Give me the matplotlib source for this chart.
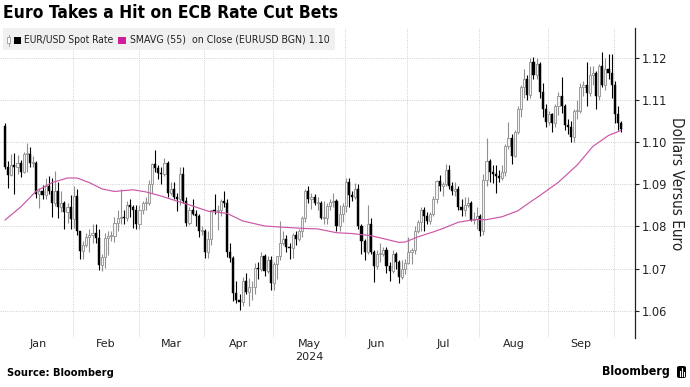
import matplotlib
matplotlib.use("Agg")
import matplotlib.pyplot as plt
from matplotlib.patches import Rectangle, FancyBboxPatch
from matplotlib import font_manager
import numpy as np
import pandas as pd

# ---------------- data ----------------
dates = pd.bdate_range("2024-01-02", "2024-10-03")

open_ = [
    # Jan
    1.1039, 1.0940, 1.0921, 1.0945, 1.0940, 1.0950, 1.0930, 1.0972, 1.0972, 1.0950, 1.0950,
    1.0877, 1.0885, 1.0875, 1.0897, 1.0885, 1.0855, 1.0885, 1.0845, 1.0855, 1.0835, 1.0845,
    # Feb
    1.0818, 1.0873, 1.0788, 1.0742, 1.0755, 1.0775, 1.0780, 1.0785, 1.0772, 1.0708, 1.0728,
    1.0772, 1.0777, 1.0777, 1.0808, 1.0820, 1.0822, 1.0820, 1.0850, 1.0845, 1.0840,
    # Mar
    1.0805, 1.0838, 1.0855, 1.0855, 1.0900, 1.0948, 1.0938, 1.0927, 1.0925, 1.0950, 1.0880,
    1.0890, 1.0870, 1.0865, 1.0925, 1.0860, 1.0808, 1.0838, 1.0830, 1.0825, 1.0790,
    # Apr
    1.0790, 1.0740, 1.0770, 1.0838, 1.0836, 1.0840, 1.0860, 1.0855, 1.0740, 1.0725, 1.0642,
    1.0625, 1.0620, 1.0670, 1.0645, 1.0655, 1.0655, 1.0702, 1.0700, 1.0730, 1.0695, 1.0720,
    # May
    1.0665, 1.0710, 1.0730, 1.0760, 1.0770, 1.0752, 1.0748, 1.0780, 1.0770, 1.0790, 1.0820,
    1.0885, 1.0865, 1.0870, 1.0855, 1.0855, 1.0820, 1.0820, 1.0848, 1.0857, 1.0860, 1.0800, 1.0830,
    # Jun
    1.0848, 1.0905, 1.0875, 1.0870, 1.0890, 1.0800, 1.0765, 1.0740, 1.0805, 1.0740,
    1.0705, 1.0735, 1.0735, 1.0745, 1.0705, 1.0695, 1.0735, 1.0715, 1.0680, 1.0700,
    # Jul
    1.0712, 1.0740, 1.0745, 1.0790, 1.0810, 1.0840, 1.0825, 1.0812, 1.0830, 1.0865, 1.0907,
    1.0895, 1.0900, 1.0935, 1.0895, 1.0885, 1.0890, 1.0845, 1.0840, 1.0850, 1.0855, 1.0815, 1.0817,
    # Aug
    1.0825, 1.0790, 1.0910, 1.0955, 1.0930, 1.0925, 1.0920, 1.0915, 1.0930, 1.0990, 1.1010,
    1.0968, 1.1025, 1.1080, 1.1130, 1.1150, 1.1112, 1.1190, 1.1160, 1.1185, 1.1120, 1.1078,
    # Sep
    1.1048, 1.1068, 1.1045, 1.1085, 1.1110, 1.1085, 1.1040, 1.1035, 1.1012, 1.1075, 1.1075,
    1.1132, 1.1135, 1.1118, 1.1160, 1.1165, 1.1110, 1.1180, 1.1135, 1.1175, 1.1165,
    # Oct
    1.1135, 1.1068, 1.1045,
]

high = [
    1.1046, 1.0956, 1.0973, 1.0975, 1.0969, 1.0958, 1.0976, 1.0999, 1.0988, 1.0967, 1.0956,
    1.0891, 1.0898, 1.0915, 1.0920, 1.0914, 1.0932, 1.0905, 1.0885, 1.0860, 1.0855, 1.0875,
    1.0895, 1.0888, 1.0790, 1.0765, 1.0785, 1.0795, 1.0805, 1.0805, 1.0795, 1.0735, 1.0785,
    1.0790, 1.0790, 1.0822, 1.0838, 1.0888, 1.0840, 1.0860, 1.0865, 1.0850, 1.0850,
    1.0850, 1.0860, 1.0870, 1.0910, 1.0950, 1.0981, 1.0945, 1.0940, 1.0963, 1.0955, 1.0905,
    1.0905, 1.0880, 1.0940, 1.0942, 1.0870, 1.0845, 1.0865, 1.0840, 1.0830, 1.0800,
    1.0795, 1.0790, 1.0840, 1.0876, 1.0850, 1.0865, 1.0885, 1.0865, 1.0760, 1.0730, 1.0670,
    1.0640, 1.0680, 1.0690, 1.0678, 1.0670, 1.0713, 1.0715, 1.0740, 1.0735, 1.0730, 1.0730,
    1.0715, 1.0730, 1.0812, 1.0790, 1.0780, 1.0760, 1.0785, 1.0790, 1.0795, 1.0825, 1.0890,
    1.0895, 1.0880, 1.0877, 1.0870, 1.0860, 1.0860, 1.0855, 1.0865, 1.0880, 1.0865, 1.0850, 1.0855,
    1.0916, 1.0915, 1.0885, 1.0902, 1.0900, 1.0805, 1.0770, 1.0852, 1.0820, 1.0745,
    1.0745, 1.0760, 1.0752, 1.0750, 1.0715, 1.0745, 1.0740, 1.0720, 1.0720, 1.0722,
    1.0776, 1.0748, 1.0800, 1.0815, 1.0845, 1.0845, 1.0835, 1.0835, 1.0872, 1.0910, 1.0922,
    1.0905, 1.0948, 1.0945, 1.0905, 1.0905, 1.0895, 1.0865, 1.0870, 1.0870, 1.0860, 1.0835, 1.0845,
    1.0830, 1.0925, 1.1009, 1.0960, 1.0945, 1.0945, 1.0935, 1.0945, 1.0995, 1.1047, 1.1020,
    1.1030, 1.1085, 1.1135, 1.1175, 1.1160, 1.1200, 1.1202, 1.1200, 1.1190, 1.1140, 1.1090,
    1.1075, 1.1070, 1.1090, 1.1120, 1.1155, 1.1090, 1.1055, 1.1050, 1.1080, 1.1100, 1.1140,
    1.1145, 1.1190, 1.1180, 1.1180, 1.1170, 1.1185, 1.1214, 1.1200, 1.1210, 1.1209,
    1.1145, 1.1085, 1.1050,
]

low = [
    1.0937, 1.0892, 1.0920, 1.0877, 1.0925, 1.0917, 1.0927, 1.0930, 1.0942, 1.0940, 1.0867,
    1.0844, 1.0866, 1.0864, 1.0877, 1.0822, 1.0848, 1.0820, 1.0835, 1.0795, 1.0808, 1.0795,
    1.0796, 1.0780, 1.0723, 1.0722, 1.0752, 1.0740, 1.0761, 1.0760, 1.0697, 1.0695, 1.0702,
    1.0732, 1.0765, 1.0762, 1.0790, 1.0805, 1.0805, 1.0814, 1.0823, 1.0796, 1.0795,
    1.0795, 1.0830, 1.0840, 1.0850, 1.0880, 1.0930, 1.0912, 1.0900, 1.0920, 1.0870, 1.0875,
    1.0864, 1.0836, 1.0850, 1.0855, 1.0800, 1.0804, 1.0828, 1.0800, 1.0775, 1.0780,
    1.0725, 1.0725, 1.0755, 1.0830, 1.0792, 1.0825, 1.0845, 1.0728, 1.0715, 1.0622, 1.0618,
    1.0601, 1.0610, 1.0640, 1.0610, 1.0624, 1.0640, 1.0675, 1.0695, 1.0682, 1.0690, 1.0650,
    1.0650, 1.0675, 1.0720, 1.0755, 1.0740, 1.0723, 1.0725, 1.0755, 1.0765, 1.0775, 1.0810,
    1.0855, 1.0842, 1.0850, 1.0840, 1.0817, 1.0805, 1.0805, 1.0840, 1.0845, 1.0788, 1.0790, 1.0810,
    1.0835, 1.0845, 1.0860, 1.0865, 1.0795, 1.0735, 1.0720, 1.0735, 1.0735, 1.0668,
    1.0700, 1.0715, 1.0730, 1.0690, 1.0670, 1.0690, 1.0700, 1.0665, 1.0675, 1.0686,
    1.0710, 1.0710, 1.0735, 1.0785, 1.0790, 1.0790, 1.0805, 1.0806, 1.0825, 1.0855, 1.0885,
    1.0872, 1.0895, 1.0888, 1.0875, 1.0872, 1.0840, 1.0825, 1.0825, 1.0845, 1.0812, 1.0805, 1.0795,
    1.0777, 1.0780, 1.0895, 1.0905, 1.0902, 1.0880, 1.0905, 1.0910, 1.0920, 1.0985, 1.0948,
    1.0965, 1.1020, 1.1060, 1.1105, 1.1100, 1.1105, 1.1150, 1.1150, 1.1105, 1.1060, 1.1035,
    1.1040, 1.1025, 1.1035, 1.1065, 1.1070, 1.1030, 1.1020, 1.1001, 1.1000, 1.1055, 1.1070,
    1.1110, 1.1085, 1.1110, 1.1135, 1.1080, 1.1100, 1.1130, 1.1125, 1.1150, 1.1105,
    1.1045, 1.1030, 1.1025,
]

close = [
    1.0940, 1.0921, 1.0945, 1.0940, 1.0950, 1.0930, 1.0972, 1.0972, 1.0950, 1.0950, 1.0877,
    1.0885, 1.0875, 1.0897, 1.0885, 1.0855, 1.0885, 1.0845, 1.0855, 1.0835, 1.0845, 1.0818,
    1.0873, 1.0788, 1.0742, 1.0755, 1.0775, 1.0780, 1.0785, 1.0772, 1.0708, 1.0728, 1.0772,
    1.0777, 1.0777, 1.0808, 1.0820, 1.0822, 1.0820, 1.0850, 1.0845, 1.0840, 1.0805,
    1.0838, 1.0855, 1.0855, 1.0900, 1.0948, 1.0938, 1.0927, 1.0925, 1.0950, 1.0880, 1.0890,
    1.0870, 1.0865, 1.0925, 1.0860, 1.0808, 1.0838, 1.0830, 1.0825, 1.0790, 1.0790,
    1.0740, 1.0770, 1.0838, 1.0836, 1.0840, 1.0860, 1.0855, 1.0740, 1.0725, 1.0642, 1.0625,
    1.0620, 1.0670, 1.0645, 1.0655, 1.0655, 1.0702, 1.0700, 1.0730, 1.0695, 1.0720, 1.0665,
    1.0710, 1.0730, 1.0760, 1.0770, 1.0752, 1.0748, 1.0780, 1.0770, 1.0790, 1.0820, 1.0885,
    1.0865, 1.0870, 1.0855, 1.0855, 1.0820, 1.0820, 1.0848, 1.0857, 1.0860, 1.0800, 1.0830, 1.0848,
    1.0905, 1.0875, 1.0870, 1.0890, 1.0800, 1.0765, 1.0740, 1.0805, 1.0740, 1.0705,
    1.0735, 1.0735, 1.0745, 1.0705, 1.0695, 1.0735, 1.0715, 1.0680, 1.0700, 1.0712,
    1.0740, 1.0745, 1.0790, 1.0810, 1.0840, 1.0825, 1.0812, 1.0830, 1.0865, 1.0907, 1.0895,
    1.0900, 1.0935, 1.0895, 1.0885, 1.0890, 1.0845, 1.0840, 1.0850, 1.0855, 1.0815, 1.0817, 1.0825,
    1.0790, 1.0910, 1.0955, 1.0930, 1.0925, 1.0920, 1.0915, 1.0930, 1.0990, 1.1010, 1.0968,
    1.1025, 1.1080, 1.1130, 1.1150, 1.1112, 1.1190, 1.1160, 1.1185, 1.1120, 1.1078, 1.1048,
    1.1068, 1.1045, 1.1085, 1.1110, 1.1085, 1.1040, 1.1035, 1.1012, 1.1075, 1.1075, 1.1132,
    1.1135, 1.1118, 1.1160, 1.1165, 1.1110, 1.1180, 1.1135, 1.1175, 1.1165, 1.1135,
    1.1068, 1.1045, 1.1032,
]

# 55-day simple moving average at selected dates
ma_dates = [
    "2024-01-02", "2024-01-09", "2024-01-16", "2024-01-23", "2024-01-30", "2024-02-02",
    "2024-02-08", "2024-02-14", "2024-02-20", "2024-02-23", "2024-02-28", "2024-03-05",
    "2024-03-12", "2024-03-19", "2024-03-25", "2024-04-02", "2024-04-10", "2024-04-17",
    "2024-04-26", "2024-05-06", "2024-05-15", "2024-05-21", "2024-05-29", "2024-06-05",
    "2024-06-13", "2024-06-19", "2024-06-26", "2024-06-28", "2024-07-04", "2024-07-11",
    "2024-07-16", "2024-07-23", "2024-07-30", "2024-08-05", "2024-08-12", "2024-08-19",
    "2024-08-23", "2024-08-28", "2024-09-05", "2024-09-13", "2024-09-20", "2024-09-27",
    "2024-10-03",
]
ma_values = [
    1.0815, 1.0846, 1.0884, 1.0904, 1.0915, 1.0915,
    1.0904, 1.0889, 1.0883, 1.0885, 1.0887, 1.0882,
    1.0872, 1.0860, 1.0851, 1.0836, 1.0831, 1.0813,
    1.0801, 1.0798, 1.0795, 1.0794, 1.0785, 1.0783,
    1.0778, 1.0771, 1.0762, 1.0763, 1.0775, 1.0787,
    1.0795, 1.0810, 1.0816, 1.0816, 1.0823, 1.0837,
    1.0858, 1.0873, 1.0905, 1.0946, 1.0990, 1.1016,
    1.1028,
]

month_labels = ["Jan", "Feb", "Mar", "Apr", "May", "Jun", "Jul", "Aug", "Sep"]
year_label = "2024"
y_ticks = [1.06, 1.07, 1.08, 1.09, 1.10, 1.11, 1.12]

title = "Euro Takes a Hit on ECB Rate Cut Bets"
legend_1 = "EUR/USD Spot Rate"
legend_2 = "SMAVG (55)  on Close (EURUSD BGN) 1.10"
y_label = "Dollars Versus Euro"
source = "Source: Bloomberg"
brand = "Bloomberg"

# ---------------- fonts ----------------
cond_family = None
for f in font_manager.fontManager.ttflist:
    if f.name == "DejaVu Sans" and str(f.stretch) in ("condensed", "semi-condensed"):
        cond_family = ("DejaVu Sans", "condensed")
        break
if cond_family is None:
    names = {f.name for f in font_manager.fontManager.ttflist}
    if "Liberation Sans Narrow" in names:
        cond_family = ("Liberation Sans Narrow", "normal")
    else:
        cond_family = ("DejaVu Sans", "normal")
FAM, STRETCH = cond_family

# ---------------- figure ----------------
W, H = 690, 387
fig = plt.figure(figsize=(W / 100, H / 100), dpi=100)
fig.patch.set_facecolor("white")


def fx(px):
    return px / W


def fy(py):
    return 1 - py / H


renderer = fig.canvas.get_renderer()


def fit(t, target, use_height=False):
    bb = t.get_window_extent(renderer=renderer)
    size = bb.height if use_height else bb.width
    t.set_fontsize(t.get_fontsize() * target / size)


# legend background (behind the axes, grid shows through)
fig.patches.append(Rectangle((fx(3), fy(50)), fx(335) - fx(3), fy(28) - fy(50),
                             transform=fig.transFigure, facecolor="#f0f0f0",
                             edgecolor="none", zorder=0))

ax_top, ax_bot, ax_right = 28, 338, 635
ax = fig.add_axes([0, fy(ax_bot), fx(ax_right), (ax_bot - ax_top) / H])
ax.patch.set_alpha(0)

x = np.arange(len(dates))
o = np.array(open_)
h = np.array(high)
l = np.array(low)
c = np.array(close)
up = c >= o
UP_EDGE = "#8f8f8f"

ax.vlines(x[up], l[up], h[up], color=UP_EDGE, lw=0.8, zorder=3)
ax.vlines(x[~up], l[~up], h[~up], color="black", lw=0.8, zorder=3)
body_lo = np.minimum(o, c)
body_h = np.maximum(np.abs(c - o), 0.00018)
ax.bar(x[up], body_h[up], bottom=body_lo[up], width=0.68, color="#f4f4f4",
       edgecolor=UP_EDGE, linewidth=0.6, zorder=4)
ax.bar(x[~up], body_h[~up], bottom=body_lo[~up], width=0.68, color="black",
       edgecolor="black", linewidth=0.3, zorder=4)

ma_pos = dates.get_indexer(pd.to_datetime(ma_dates))
ax.plot(ma_pos, ma_values, color="#cc55a8", lw=0.85, zorder=5, solid_capstyle="round")

# scales
px_per_day = 3.127
ax.set_xlim(-5 / px_per_day, (ax_right - 5) / px_per_day)
y_per_px = 0.01 / 42.1
ax.set_ylim(1.12 - (ax_bot - 58) * y_per_px, 1.12 + (58 - ax_top) * y_per_px)

# month boundaries and labels
months = dates.month
starts = [int(np.argmax(months == m)) for m in range(1, 11)]
grid_pos = [s - 0.3 for s in starts[1:]]
edges = [-0.5] + grid_pos
centers = [(edges[i] + edges[i + 1]) / 2 for i in range(len(month_labels))]
ax.set_xticks(grid_pos)
ax.set_xticklabels([])
ax.set_xticks(centers, minor=True)
ax.set_xticklabels(month_labels, minor=True)
ax.tick_params(axis="x", which="both", length=0, pad=1, labelsize=8, labelcolor="#222222")

ax.yaxis.tick_right()
ax.set_yticks(y_ticks)
ax.set_yticklabels([f"{v:.2f}" for v in y_ticks])
ax.tick_params(axis="y", direction="out", length=3, width=0.8, pad=2,
               labelsize=8.3, labelcolor="#222222", color="#222222")

grid_kw = dict(color="#cfcfcf", linestyle=(0, (1, 1.3)), linewidth=0.7)
ax.grid(axis="x", which="major", **grid_kw)
ax.grid(axis="y", which="major", **grid_kw)
ax.set_axisbelow(True)

for s in ["left", "top", "bottom"]:
    ax.spines[s].set_visible(False)
ax.spines["right"].set_color("#222222")
ax.spines["right"].set_linewidth(0.9)

# year label under May
may_x = ax.transData.transform((centers[4], 0))[0]
fig.text(may_x / W, fy(357), year_label, ha="center", va="center", fontsize=8, color="#222222")

# y label
yl = fig.text(fx(676), fy(184), y_label, rotation=270, ha="center", va="center",
              fontsize=10, color="#222222", family=FAM, stretch=STRETCH)
fit(yl, 133, use_height=True)

# title
tt = fig.text(fx(3), fy(4), title, ha="left", va="top", fontsize=16, fontweight="bold",
              color="black", family=FAM, stretch=STRETCH)
fit(tt, 337)

# legend contents
fig.patches.append(Rectangle((fx(7), fy(43)), fx(3), fy(37) - fy(43),
                             transform=fig.transFigure, facecolor="white",
                             edgecolor="#999999", linewidth=0.6, zorder=2))
fig.lines.append(plt.Line2D([fx(8.5), fx(8.5)], [fy(35), fy(46)], transform=fig.transFigure,
                            color="#999999", linewidth=0.6, zorder=1))
fig.patches.append(Rectangle((fx(14), fy(44)), fx(7), fx(7) * W / H,
                             transform=fig.transFigure, facecolor="black",
                             edgecolor="none", zorder=2))
l1 = fig.text(fx(24), fy(40), legend_1, ha="left", va="center", fontsize=7.5,
              color="#222222", family=FAM, stretch=STRETCH)
fit(l1, 89)
fig.patches.append(Rectangle((fx(118), fy(44)), fx(8), fx(7) * W / H,
                             transform=fig.transFigure, facecolor="#cc1f99",
                             edgecolor="none", zorder=2))
l2 = fig.text(fx(130), fy(40), legend_2, ha="left", va="center", fontsize=7.5,
              color="#222222", family=FAM, stretch=STRETCH)
fit(l2, 199)

# footer
st = fig.text(fx(7), fy(373), source, ha="left", va="center", fontsize=7.5,
              fontweight="bold", color="black", family=FAM, stretch=STRETCH)
fit(st, 106)
bt = fig.text(fx(602), fy(372), brand, ha="left", va="center", fontsize=10,
              fontweight="bold", color="black", family=FAM, stretch=STRETCH)
fit(bt, 68)
fig.patches.append(FancyBboxPatch((fx(677), fy(378)), fx(9), fy(366) - fy(378),
                                  boxstyle="round,pad=0,rounding_size=0.004",
                                  transform=fig.transFigure, facecolor="black",
                                  edgecolor="none", zorder=2))
for i, hh in enumerate([5, 8, 4]):
    xx = 679.5 + i * 2
    fig.lines.append(plt.Line2D([fx(xx), fx(xx)], [fy(376), fy(376 - hh)],
                                transform=fig.transFigure, color="white",
                                linewidth=0.8, zorder=3))

fig.savefig("out.png", dpi=100)
